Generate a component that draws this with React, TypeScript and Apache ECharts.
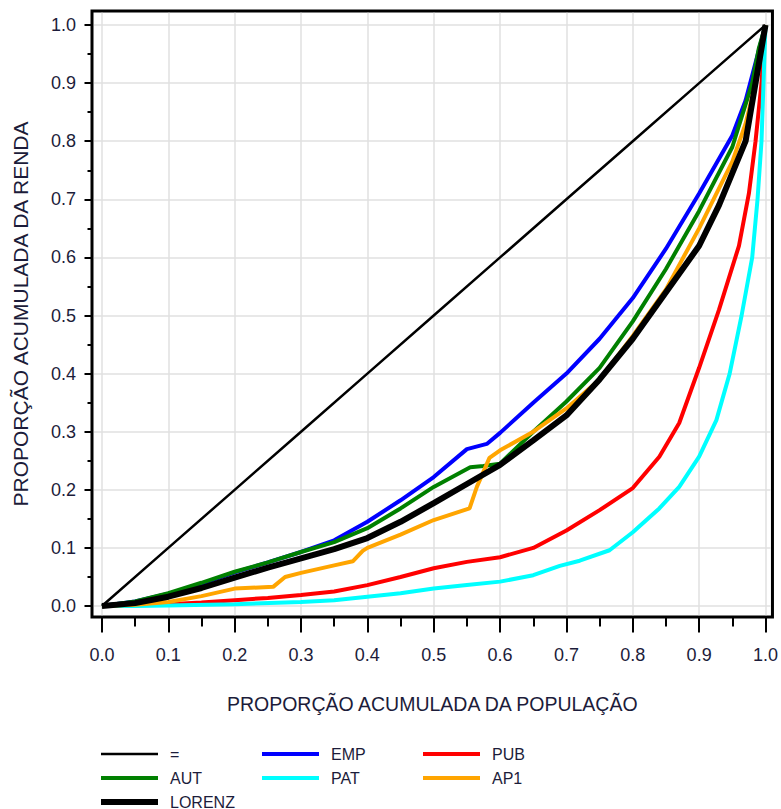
import React, { useEffect, useRef } from "react";
import * as echarts from "echarts";

const MAJOR_TICKS = [0, 0.1, 0.2, 0.3, 0.4, 0.5, 0.6, 0.7, 0.8, 0.9, 1.0];
const MINOR_TICKS = [0.05, 0.15, 0.25, 0.35, 0.45, 0.55, 0.65, 0.75, 0.85, 0.95];

const X_TITLE = "PROPORÇÃO ACUMULADA DA POPULAÇÃO";
const Y_TITLE = "PROPORÇÃO ACUMULADA DA RENDA";

const EQUAL: [number, number][] = [
  [0, 0], [0.1, 0.1], [0.2, 0.2], [0.3, 0.3], [0.4, 0.4], [0.5, 0.5],
  [0.6, 0.6], [0.7, 0.7], [0.8, 0.8], [0.9, 0.9], [1, 1],
];

const EMP: [number, number][] = [
  [0, 0], [0.05, 0.008], [0.1, 0.021], [0.15, 0.038], [0.2, 0.058], [0.25, 0.075],
  [0.3, 0.093], [0.35, 0.113], [0.4, 0.145], [0.45, 0.182], [0.5, 0.222],
  [0.55, 0.27], [0.58, 0.279], [0.6, 0.298], [0.65, 0.35], [0.7, 0.4],
  [0.75, 0.46], [0.8, 0.53], [0.85, 0.615], [0.9, 0.71], [0.95, 0.81],
  [0.97, 0.87], [1, 1],
];

const PUB: [number, number][] = [
  [0, 0], [0.1, 0.003], [0.15, 0.006], [0.2, 0.01], [0.25, 0.014], [0.3, 0.019],
  [0.35, 0.025], [0.4, 0.036], [0.45, 0.05], [0.5, 0.065], [0.55, 0.076],
  [0.6, 0.084], [0.65, 0.1], [0.7, 0.13], [0.75, 0.165], [0.8, 0.203],
  [0.84, 0.257], [0.87, 0.315], [0.9, 0.41], [0.93, 0.51], [0.96, 0.62],
  [0.975, 0.71], [0.985, 0.8], [0.994, 0.9], [1, 1],
];

const AUT: [number, number][] = [
  [0, 0], [0.05, 0.008], [0.1, 0.022], [0.15, 0.04], [0.2, 0.059], [0.25, 0.075],
  [0.3, 0.093], [0.35, 0.11], [0.4, 0.134], [0.45, 0.168], [0.5, 0.205],
  [0.555, 0.239], [0.575, 0.241], [0.6, 0.245], [0.65, 0.3], [0.7, 0.352],
  [0.75, 0.41], [0.8, 0.49], [0.85, 0.58], [0.9, 0.68], [0.95, 0.79],
  [0.98, 0.9], [0.99, 0.96], [1, 1],
];

const PAT: [number, number][] = [
  [0, 0], [0.05, 0.0], [0.1, 0.001], [0.2, 0.003], [0.3, 0.007], [0.35, 0.01],
  [0.4, 0.016], [0.45, 0.022], [0.5, 0.03], [0.55, 0.036], [0.6, 0.042],
  [0.65, 0.053], [0.69, 0.069], [0.72, 0.078], [0.765, 0.096], [0.8, 0.127],
  [0.84, 0.168], [0.87, 0.205], [0.9, 0.257], [0.926, 0.32], [0.946, 0.4],
  [0.964, 0.5], [0.98, 0.6], [0.988, 0.7], [0.994, 0.8], [0.997, 0.9], [1, 1],
];

const AP1: [number, number][] = [
  [0, 0], [0.05, 0.002], [0.1, 0.007], [0.15, 0.017], [0.2, 0.03], [0.258, 0.033],
  [0.276, 0.05], [0.3, 0.057], [0.35, 0.07], [0.378, 0.077], [0.393, 0.095],
  [0.4, 0.1], [0.45, 0.123], [0.5, 0.148], [0.554, 0.168], [0.565, 0.205],
  [0.584, 0.255], [0.6, 0.268], [0.65, 0.3], [0.7, 0.34], [0.75, 0.39],
  [0.8, 0.465], [0.85, 0.545], [0.9, 0.65], [0.95, 0.765], [0.97, 0.83],
  [0.985, 0.9], [1, 1],
];

const LORENZ: [number, number][] = [
  [0, 0], [0.05, 0.005], [0.1, 0.016], [0.15, 0.031], [0.2, 0.049], [0.25, 0.066],
  [0.3, 0.082], [0.35, 0.098], [0.4, 0.117], [0.45, 0.145], [0.5, 0.177],
  [0.55, 0.21], [0.6, 0.243], [0.65, 0.285], [0.7, 0.328], [0.75, 0.39],
  [0.8, 0.46], [0.85, 0.54], [0.9, 0.62], [0.93, 0.69], [0.95, 0.745],
  [0.97, 0.8], [0.985, 0.9], [1, 1],
];

const SERIES_NAMES = ["=", "EMP", "PUB", "AUT", "PAT", "AP1", "LORENZ"];
const SERIES_COLORS = ["#000000", "#0000ff", "#ff0000", "#008000", "#00ffff", "#ffa500", "#000000"];
const SERIES_WIDTHS = [2.5, 4, 4, 4, 4, 4, 6];
const SERIES_DATA = [EQUAL, EMP, PUB, AUT, PAT, AP1, LORENZ];

// legend grid placement: [left of line, centre y of row]
const LEGEND_POS: [number, number][] = [
  [101, 749], [262, 749], [423, 749],
  [101, 773], [262, 773], [423, 773],
  [101, 797],
];
const LEGEND_ORDER = ["=", "EMP", "PUB", "AUT", "PAT", "AP1", "LORENZ"];

const FONT = "'Liberation Sans Narrow', 'Arial Narrow', 'Liberation Sans', Arial, sans-serif";
const TEXT_COLOR = "#1c1c3a";
const GRID_COLOR = "#e0e0e0";

const X_MIN = -0.015;
const X_MAX = 1.0105;
const Y_MIN = -0.0189;
const Y_MAX = 1.0241;

export default function App() {
  const ref = useRef<HTMLDivElement>(null);
  useEffect(() => {
    if (!ref.current) return;
    const chart = echarts.init(ref.current, null, { renderer: "svg" });

    const gridLines: any[] = [];
    MAJOR_TICKS.forEach((v) => {
      gridLines.push([{ coord: [v, Y_MIN + 0.003] }, { coord: [v, Y_MAX - 0.003] }]);
      gridLines.push([{ coord: [X_MIN + 0.003, v] }, { coord: [X_MAX - 0.003, v] }]);
    });

    const series: any[] = SERIES_NAMES.map((name, i) => ({
      name,
      type: "line",
      data: SERIES_DATA[i],
      symbol: "none",
      showSymbol: false,
      smooth: false,
      z: 3,
      lineStyle: { color: SERIES_COLORS[i], width: SERIES_WIDTHS[i] },
      itemStyle: { color: SERIES_COLORS[i] },
      ...(i === 0
        ? {
            markLine: {
              silent: true,
              z: 1,
              symbol: ["none", "none"],
              label: { show: false },
              emphasis: { disabled: true },
              lineStyle: { color: GRID_COLOR, width: 1.5, type: "solid" },
              data: gridLines,
            },
          }
        : {}),
    }));

    const legends = LEGEND_ORDER.map((name, i) => {
      const idx = SERIES_NAMES.indexOf(name);
      const h = SERIES_WIDTHS[idx];
      return {
        data: [name],
        left: LEGEND_POS[i][0],
        top: LEGEND_POS[i][1] - 3,
        padding: 0,
        icon: "rect",
        itemWidth: 57,
        itemHeight: h,
        selectedMode: false,
        textStyle: {
          fontFamily: FONT,
          fontSize: 16,
          lineHeight: 6,
          color: TEXT_COLOR,
          padding: [0, 0, 0, 7],
        },
      };
    });

    const tickStyle = { color: "#000", width: 2 };
    const noLine = { show: false, onZero: false };

    chart.setOption({
      animation: false,
      backgroundColor: "#ffffff",
      grid: {
        left: 92,
        top: 11,
        right: 8,
        bottom: 192,
        show: true,
        borderColor: "#000000",
        borderWidth: 3,
        backgroundColor: "transparent",
      },
      xAxis: [
        {
          type: "value",
          min: X_MIN,
          max: X_MAX,
          position: "bottom",
          axisLine: noLine,
          axisTick: { show: true, customValues: MAJOR_TICKS, length: 15.5, lineStyle: tickStyle },
          axisLabel: {
            show: true,
            customValues: MAJOR_TICKS,
            formatter: (v: number) => v.toFixed(1),
            fontFamily: FONT,
            fontSize: 18,
            color: TEXT_COLOR,
            margin: 29,
          },
          splitLine: { show: false },
          name: X_TITLE,
          nameLocation: "middle",
          nameGap: 77,
          nameTextStyle: { fontFamily: FONT, fontSize: 19.5, color: TEXT_COLOR },
        },
        {
          type: "value",
          min: X_MIN,
          max: X_MAX,
          position: "bottom",
          axisLine: noLine,
          axisTick: { show: true, customValues: MINOR_TICKS, length: 9.5, lineStyle: tickStyle },
          axisLabel: { show: false },
          splitLine: { show: false },
        },
      ],
      yAxis: [
        {
          type: "value",
          min: Y_MIN,
          max: Y_MAX,
          position: "left",
          axisLine: noLine,
          axisTick: { show: true, customValues: MAJOR_TICKS, length: 7.5, lineStyle: tickStyle },
          axisLabel: {
            show: true,
            customValues: MAJOR_TICKS,
            formatter: (v: number) => v.toFixed(1),
            fontFamily: FONT,
            fontSize: 18,
            color: TEXT_COLOR,
            margin: 16,
          },
          splitLine: { show: false },
          name: Y_TITLE,
          nameLocation: "middle",
          nameGap: 61,
          nameRotate: 90,
          nameTextStyle: { fontFamily: FONT, fontSize: 21, color: TEXT_COLOR },
        },
        {
          type: "value",
          min: Y_MIN,
          max: Y_MAX,
          position: "left",
          axisLine: noLine,
          axisTick: { show: true, customValues: MINOR_TICKS, length: 4.5, lineStyle: tickStyle },
          axisLabel: { show: false },
          splitLine: { show: false },
        },
      ],
      legend: legends,
      series,
    });
    return () => chart.dispose();
  }, []);
  return (
    <div
      ref={ref}
      style={{ position: "fixed", left: 0, top: 0, width: 781, height: 809, background: "#fff" }}
    />
  );
}
